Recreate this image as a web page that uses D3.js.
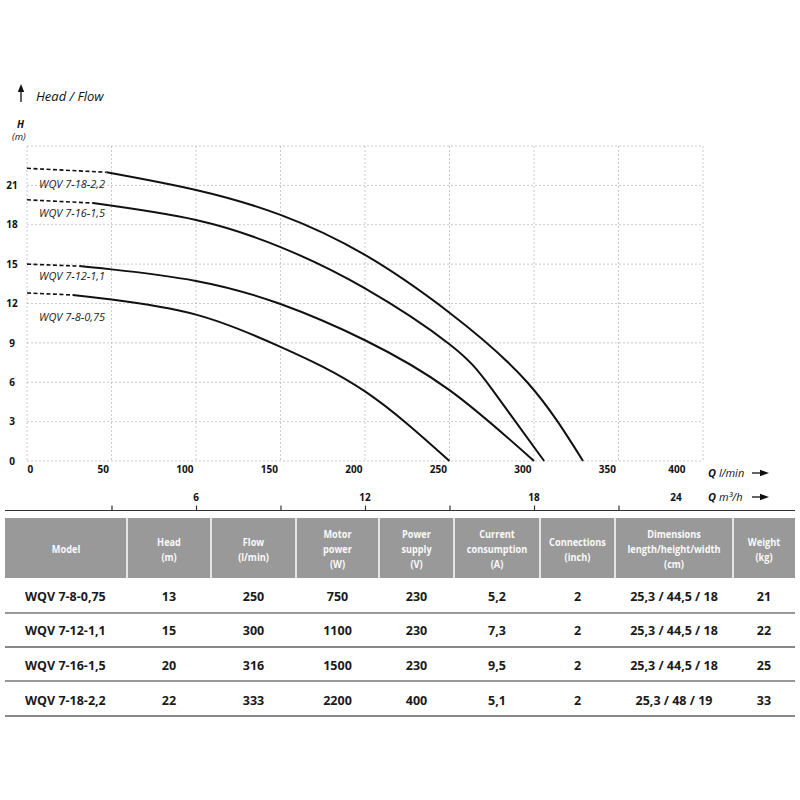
<!DOCTYPE html>
<html><head><meta charset="utf-8">
<script src="https://cdn.jsdelivr.net/npm/d3@7"></script>
<style>
body{margin:0;background:#fff;}
text{font-family:"Open Sans","DejaVu Sans",sans-serif;}
</style></head>
<body><svg id="c" width="800" height="800"></svg>
<script>
// ---------- data ----------
const Q_TICKS = [0,50,100,150,200,250,300,350,400];
const H_TICKS = [0,3,6,9,12,15,18,21,24];
const H_LABELS = [0,3,6,9,12,15,18,21];
const M3H_TICKS = [3,6,9,12,15,18,21];
const M3H_LABELS = [6,12,18,24];

const curveNames = ["WQV 7-18-2,2","WQV 7-16-1,5","WQV 7-12-1,1","WQV 7-8-0,75"];
const curve_7_18 = [[0,22.3],[47,22.0],[100,20.65],[150,18.75],[200,15.7],[250,11.3],[296,6.0],[329,0]];
const curve_7_16 = [[0,19.9],[39,19.65],[100,18.36],[150,16.3],[200,13.15],[250,8.9],[275,5.5],[306,0]];
const curve_7_12 = [[0,15.0],[31,14.85],[50,14.6],[100,13.72],[150,11.96],[200,9.2],[250,5.4],[300,0]];
const curve_7_8  = [[0,12.8],[27,12.65],[50,12.3],[100,11.15],[150,8.7],[200,5.3],[250,0]];
const dashEnds = [47,39,31,27];
const curveLabelH = [21.1,18.9,14.1,11.0];

const tableHeaders = [["Model"],["Head","(m)"],["Flow","(l/min)"],["Motor","power","(W)"],["Power","supply","(V)"],["Current","consumption","(A)"],["Connections","(inch)"],["Dimensions","length/height/width","(cm)"],["Weight","(kg)"]];
const models = ["WQV 7-8-0,75","WQV 7-12-1,1","WQV 7-16-1,5","WQV 7-18-2,2"];
const heads = ["13","15","20","22"];
const flows = ["250","300","316","333"];
const motorPower = ["750","1100","1500","2200"];
const powerSupply = ["230","230","230","400"];
const currents = ["5,2","7,3","9,5","5,1"];
const connections = ["2","2","2","2"];
const dimensions = ["25,3 / 44,5 / 18","25,3 / 44,5 / 18","25,3 / 44,5 / 18","25,3 / 48 / 19"];
const weights = ["21","22","25","33"];

// ---------- layout ----------
const svg = d3.select("#c");
svg.append("rect").attr("width",800).attr("height",800).attr("fill","#fff");
const x = d3.scaleLinear().domain([0,400]).range([27,703]);
const y = d3.scaleLinear().domain([0,24]).range([461,146]);
const xm = d3.scaleLinear().domain([0,24]).range([27,703]);

// grid
const grid = svg.append("g").attr("stroke","#bdbdbd").attr("stroke-width",0.8).attr("stroke-dasharray","2,2");
grid.selectAll(".v").data(Q_TICKS).join("line")
  .attr("x1",d=>x(d)).attr("x2",d=>x(d)).attr("y1",y(24)).attr("y2",y(0));
grid.selectAll(".h").data(H_TICKS).join("line")
  .attr("y1",d=>y(d)).attr("y2",d=>y(d)).attr("x1",x(0)).attr("x2",x(400));

// y axis labels
const yAx = svg.append("g").attr("transform","translate(12,0)")
  .call(d3.axisLeft(y).tickValues(H_LABELS).tickSize(0).tickPadding(0).tickFormat(d3.format("d")));
yAx.select(".domain").remove();
yAx.selectAll("text").attr("text-anchor","middle").attr("x",0)
  .attr("font-family","Open Sans").attr("font-weight","bold").attr("font-size",10).attr("fill","#111");

// x axis labels (l/min)
const xAx = svg.append("g").attr("transform","translate(0,466)")
  .call(d3.axisBottom(x).tickValues(Q_TICKS).tickSize(0).tickPadding(0).tickFormat(d3.format("d")));
xAx.select(".domain").remove();
xAx.selectAll("text")
  .attr("text-anchor",d=>d===0?"start":"end")
  .attr("dx",d=>d===0?0:(d===400?-18:-3))
  .attr("font-family","Open Sans").attr("font-weight","bold").attr("font-size",10).attr("fill","#111");

// secondary axis (m3/h)
svg.append("line").attr("x1",5).attr("x2",795).attr("y1",510.5).attr("y2",510.5).attr("stroke","#333").attr("stroke-width",1.2);
const mAx = svg.append("g").attr("transform","translate(0,510.5)")
  .call(d3.axisTop(xm).tickValues(M3H_TICKS).tickSize(5).tickFormat(""));
mAx.select(".domain").remove();
mAx.selectAll("line").attr("stroke","#333").attr("stroke-width",1.2);
svg.append("g").selectAll("text").data(M3H_LABELS).join("text")
  .attr("x",d=>d===24?xm(d)-27:xm(d)).attr("y",501).attr("text-anchor","middle")
  .attr("font-weight","bold").attr("font-size",10).attr("fill","#111").text(d=>d);

// axis titles
function arrowRight(yy){
  svg.append("line").attr("x1",752).attr("x2",762).attr("y1",yy).attr("y2",yy).attr("stroke","#111").attr("stroke-width",1.3);
  svg.append("path").attr("d",`M760,${yy-3.2}L769,${yy}L760,${yy+3.2}Z`).attr("fill","#111");
}
const tq1 = svg.append("text").attr("x",708).attr("y",477).attr("font-size",11).attr("fill","#111");
tq1.append("tspan").attr("font-weight","bold").attr("font-style","italic").text("Q ");
tq1.append("tspan").attr("font-style","italic").text("l/min");
arrowRight(473);
const tq2 = svg.append("text").attr("x",708).attr("y",501).attr("font-size",11).attr("fill","#111");
tq2.append("tspan").attr("font-weight","bold").attr("font-style","italic").text("Q ");
tq2.append("tspan").attr("font-style","italic").text("m³/h");
arrowRight(497);

svg.append("line").attr("x1",21).attr("x2",21).attr("y1",102).attr("y2",90).attr("stroke","#111").attr("stroke-width",1.3);
svg.append("path").attr("d","M17.8,92L21,84L24.2,92Z").attr("fill","#111");
svg.append("text").attr("x",36).attr("y",101).attr("font-size",13).attr("font-style","italic").attr("fill","#111").text("Head / Flow");
svg.append("text").attr("x",17).attr("y",128).attr("font-size",10).attr("font-weight","bold").attr("font-style","italic").attr("fill","#111").text("H");
svg.append("text").attr("x",12).attr("y",140).attr("font-size",9.5).attr("font-style","italic").attr("fill","#111").text("(m)");

// curves
const line = d3.line().x(d=>x(d[0])).y(d=>y(d[1])).curve(d3.curveNatural);
const curves = [curve_7_18,curve_7_16,curve_7_12,curve_7_8];
curves.forEach((c,i)=>{
  const de = dashEnds[i];
  const dashed = c.filter(p=>p[0]<=de);
  const solid = c.filter(p=>p[0]>=de);
  svg.append("path").attr("d",line(dashed)).attr("fill","none").attr("stroke","#111").attr("stroke-width",1.6).attr("stroke-dasharray","4,2.5");
  svg.append("path").attr("d",line(solid)).attr("fill","none").attr("stroke","#111").attr("stroke-width",2);
  svg.append("text").attr("x",39).attr("y",y(curveLabelH[i])+4).attr("font-size",11).attr("font-style","italic").attr("fill","#222").text(curveNames[i]);
});

// table
const colEdges = [5,127,211,296,379,454,540,615,733,795];
const hTop = 518, hBot = 578;
svg.append("rect").attr("x",5).attr("y",hTop).attr("width",790).attr("height",hBot-hTop).attr("fill","#999999");
svg.append("g").selectAll("line").data(colEdges.slice(1,-1)).join("line")
  .attr("x1",d=>d).attr("x2",d=>d).attr("y1",hTop).attr("y2",hBot).attr("stroke","#fff").attr("stroke-width",1.5);
tableHeaders.forEach((lines,i)=>{
  const cx = (colEdges[i]+colEdges[i+1])/2;
  const y0 = 549 - (lines.length-1)*15/2;
  lines.forEach((t,j)=>{
    svg.append("text").attr("transform",`translate(${cx},${y0+j*15+4.2}) scale(0.82,1)`).attr("text-anchor","middle")
      .attr("font-weight","bold").attr("font-size",11.2).attr("fill","#fafafa").text(t);
  });
});
const rowCenters = [596,630,665,700];
const rowLines = [613,647,681,716];
const rowLineColors = ["#333","#888","#333","#888"];
const rowLineWidths = [1.2,1.8,1.2,2];
rowLines.forEach((ly,i)=>{
  svg.append("line").attr("x1",5).attr("x2",795).attr("y1",ly).attr("y2",ly).attr("stroke",rowLineColors[i]).attr("stroke-width",rowLineWidths[i]);
});
const cols = [models,heads,flows,motorPower,powerSupply,currents,connections,dimensions,weights];
cols.forEach((col,ci)=>{
  col.forEach((v,ri)=>{
    const t = svg.append("text").attr("y",rowCenters[ri]+4.5).attr("font-weight","bold").attr("font-size",12.5).attr("fill","#1a1a1a").text(v);
    if(ci===0) t.attr("x",25);
    else t.attr("x",(colEdges[ci]+colEdges[ci+1])/2).attr("text-anchor","middle");
  });
});
</script></body></html>
